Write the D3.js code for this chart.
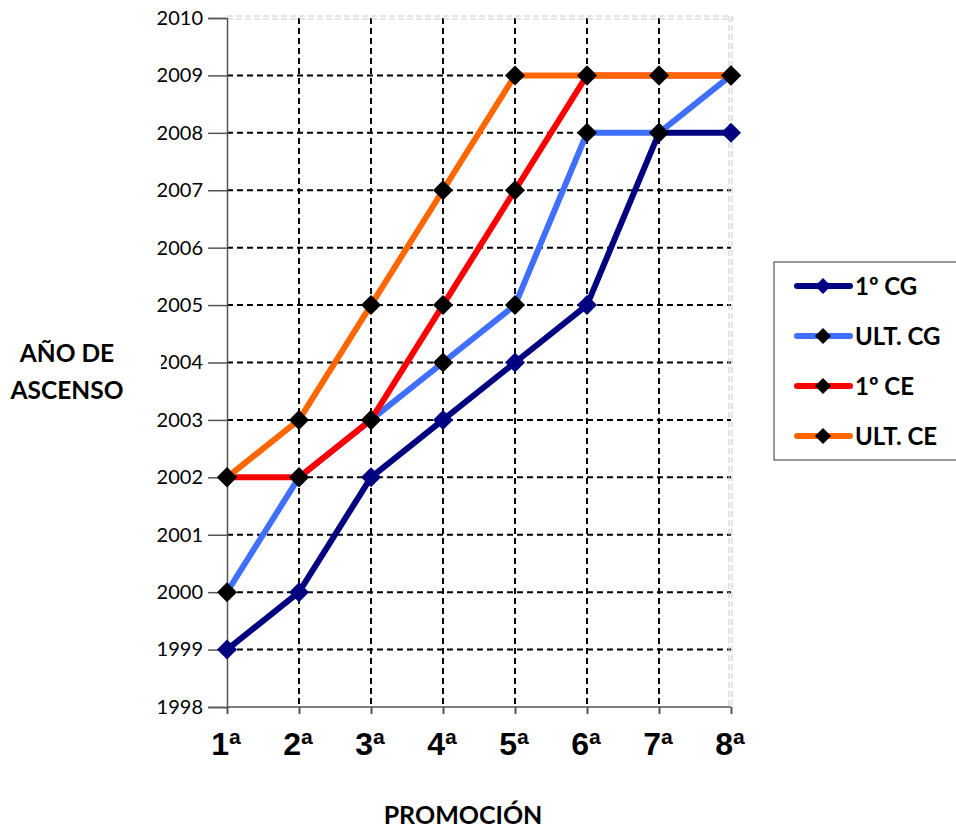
<!DOCTYPE html>
<html><head><meta charset="utf-8">
<script src="https://cdn.jsdelivr.net/npm/d3@7"></script>
<style>body{margin:0;background:#fff}svg{display:block}</style>
</head><body>
<script>
const categories = ["1", "2", "3", "4", "5", "6", "7", "8"];
const yTicks = [1998,1999,2000,2001,2002,2003,2004,2005,2006,2007,2008,2009,2010];
const seriesNames = ["1º CG", "ULT. CG", "1º CE", "ULT. CE"];
const primeroCG = [1999, 2000, 2002, 2003, 2004, 2005, 2008, 2008];
const ultimoCG  = [2000, 2002, 2003, 2004, 2005, 2008, 2008, 2009];
const primeroCE = [2002, 2002, 2003, 2005, 2007, 2009, 2009, 2009];
const ultimoCE  = [2002, 2003, 2005, 2007, 2009, 2009, 2009, 2009];
const seriesColors = ["#000080", "#3F6FFF", "#FF0000", "#FF6600"];
const markerColors = ["#000080", "#000000", "#000000", "#000000"];
const seriesValues = [primeroCG, ultimoCG, primeroCE, ultimoCE];

const W = 956, H = 828;
const svg = d3.select("body").append("svg").attr("width", W).attr("height", H);
const x = d3.scalePoint().domain(categories).range([227, 731]);
const y = d3.scaleLinear().domain([1998, 2010]).range([707, 18]);
const tickFont = "Lato, 'Open Sans', sans-serif";

// gridlines
const g = svg.append("g");
yTicks.filter(v => v > 1998 && v < 2010).forEach(v => {
  g.append("line").attr("x1", 227).attr("x2", 731).attr("y1", y(v)).attr("y2", y(v))
    .attr("stroke", "#000").attr("stroke-width", 2).attr("stroke-dasharray", "6,4");
});
categories.slice(1, 7).forEach(c => {
  g.append("line").attr("x1", x(c)).attr("x2", x(c)).attr("y1", 18).attr("y2", 707)
    .attr("stroke", "#000").attr("stroke-width", 2).attr("stroke-dasharray", "6,4");
});
[0, 3].forEach(o => {
  g.append("line").attr("x1", 227).attr("x2", 731 + o).attr("y1", 16 + o).attr("y2", 16 + o)
    .attr("stroke", "#c8c8c8").attr("stroke-width", 1).attr("stroke-dasharray", "6,3");
  g.append("line").attr("x1", 729 + o).attr("x2", 729 + o).attr("y1", 16).attr("y2", 707)
    .attr("stroke", "#c8c8c8").attr("stroke-width", 1).attr("stroke-dasharray", "6,3");
});

// axes
const yAxis = d3.axisLeft(y).tickValues(yTicks).tickFormat(d3.format("d")).tickSize(19).tickPadding(5);
const ya = svg.append("g").attr("transform", "translate(227,0)").call(yAxis);
ya.select(".domain").attr("stroke", "#555").attr("stroke-width", 1.5);
ya.selectAll(".tick line").attr("stroke", "#555").attr("stroke-width", 1.5);
ya.selectAll("text").attr("font-family", tickFont).attr("font-size", 20).attr("fill", "#000");

const xAxis = d3.axisBottom(x).tickSize(7).tickFormat("");
const xa = svg.append("g").attr("transform", "translate(0,707)").call(xAxis);
xa.select(".domain").attr("stroke", "#555").attr("stroke-width", 1.5).attr("d", "M227,0H731");
xa.selectAll(".tick line").attr("stroke", "#555").attr("stroke-width", 2);
categories.forEach(c => {
  svg.append("text").attr("x", x(c) - 1).attr("y", 755).attr("text-anchor", "middle")
    .attr("font-family", "'Liberation Sans', Arial, sans-serif").attr("font-weight", "bold")
    .attr("font-size", 32).attr("fill", "#000").text(c + "ª");
});

// series
const line = d3.line().x((d, i) => x(categories[i])).y(d => y(d));
seriesValues.forEach((vals, si) => {
  svg.append("path").datum(vals).attr("d", line).attr("fill", "none")
    .attr("stroke", seriesColors[si]).attr("stroke-width", 6).attr("stroke-linejoin", "round");
  svg.append("g").selectAll("path").data(vals).join("path")
    .attr("d", d3.symbol().type(d3.symbolSquare).size(200))
    .attr("transform", (d, i) => `translate(${x(categories[i])},${y(d)}) rotate(45)`)
    .attr("fill", markerColors[si]);
});

// y title with white box
svg.append("rect").attr("x", 0).attr("y", 330).attr("width", 161).attr("height", 78).attr("fill", "#fff");
const yt = svg.append("text").attr("text-anchor", "middle").attr("font-family", tickFont)
  .attr("font-weight", "bold").attr("font-size", 24.5).attr("fill", "#000");
yt.append("tspan").attr("x", 67).attr("y", 362).text("AÑO DE");
yt.append("tspan").attr("x", 67).attr("y", 399).text("ASCENSO");

svg.append("text").attr("x", 463).attr("y", 824).attr("text-anchor", "middle")
  .attr("font-family", tickFont).attr("font-weight", "bold").attr("font-size", 25).text("PROMOCIÓN");

// legend
const lg = svg.append("g");
lg.append("rect").attr("x", 774).attr("y", 262).attr("width", 190).attr("height", 198)
  .attr("fill", "#fff").attr("stroke", "#555").attr("stroke-width", 1.2);
seriesNames.forEach((n, i) => {
  const ly = 286 + i * 50;
  lg.append("line").attr("x1", 797).attr("x2", 850).attr("y1", ly).attr("y2", ly)
    .attr("stroke", seriesColors[i]).attr("stroke-width", 6).attr("stroke-linecap", "round");
  lg.append("path").attr("d", d3.symbol().type(d3.symbolSquare).size(130))
    .attr("transform", `translate(823,${ly}) rotate(45)`).attr("fill", markerColors[i]);
  lg.append("text").attr("x", 855).attr("y", ly + 9).attr("font-family", tickFont)
    .attr("font-weight", "bold").attr("font-size", 24).attr("fill", "#000").text(n);
});
</script>
</body></html>
